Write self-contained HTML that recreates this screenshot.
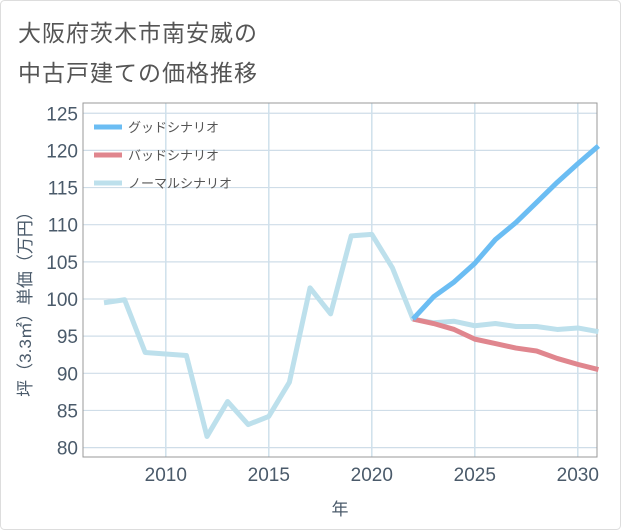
<!DOCTYPE html>
<html><head><meta charset="utf-8"><style>
body{margin:0;background:#fff;font-family:"Liberation Sans","Noto Sans CJK JP",sans-serif;}
#wrap{position:relative;width:621px;height:530px;}
.title{position:absolute;left:18px;font-size:23px;color:#555;letter-spacing:1px}
</style></head><body>
<div id="wrap">
<div class="title" style="top:14px">大阪府茨木市南安威の</div>
<div class="title" style="top:54px">中古戸建ての価格推移</div>
<svg id="chart" width="621" height="530" style="position:absolute;left:0;top:0"></svg>
</div>
<script>
const years=[2007,2008,2009,2010,2011,2012,2013,2014,2015,2016,2017,2018,2019,2020,2021,2022,2023,2024,2025,2026,2027,2028,2029,2030,2031];
const normalVals=[99.5,99.9,92.8,92.6,92.4,81.5,86.2,83.1,84.2,88.8,101.5,98.0,108.5,108.7,104.2,97.3,96.8,97.0,96.4,96.7,96.3,96.3,95.9,96.1,95.6];
const futureYears=[2022,2023,2024,2025,2026,2027,2028,2029,2030,2031];
const goodVals=[97.3,100.3,102.3,104.8,108.0,110.3,113.0,115.7,118.2,120.6];
const badVals=[97.3,96.7,95.9,94.6,94.0,93.4,93.0,92.0,91.2,90.5];
const xTicks=[2010,2015,2020,2025,2030];
const yTicks=[80,85,90,95,100,105,110,115,120,125];
const legendLabels=["グッドシナリオ","バッドシナリオ","ノーマルシナリオ"];
const ns="http://www.w3.org/2000/svg";
const svg=document.getElementById('chart');
const L=83,R=597,T=103,B=457;
const x=v=>104+(v-2007)*20.6;
const y=v=>299-(v-100)*7.43;
function mk(t,a,p){const e=document.createElementNS(ns,t);for(const k in a)e.setAttribute(k,a[k]);(p||svg).appendChild(e);return e;}
let e=mk('rect',{x:0.5,y:0.5,width:620,height:529,rx:4,fill:'none',stroke:'#ddd'});


yTicks.forEach(v=>{
 let g=mk('line',{x1:L,x2:R,y1:y(v),y2:y(v),stroke:'#cfdde8','stroke-width':1.2});
 
 
 let t=mk('text',{x:L-5,y:y(v)+7,'text-anchor':'end','font-size':19,fill:'#4a5a6a'});
 t.textContent=v;
 
 
});
xTicks.forEach(v=>{
 let g=mk('line',{x1:x(v),x2:x(v),y1:T,y2:B,stroke:'#cfe0ec','stroke-width':1.5});
 
 
 let t=mk('text',{x:x(v),y:B+24,'text-anchor':'middle','font-size':19,fill:'#4a5a6a'});
 t.textContent=v;
 
 
});
e=mk('rect',{x:L,y:T,width:R-L,height:B-T,fill:'none',stroke:'#999','stroke-width':1});


function line(xs,vs,c,n){
 const p=mk('polyline',{points:xs.map((v,i)=>x(v)+','+y(vs[i])).join(' '),fill:'none',stroke:c,'stroke-width':5,'stroke-linejoin':'round'});
 
 
}
line(years,normalVals,'#bde0ec','normal-scenario-line');
line(futureYears,badVals,'#e0868e','bad-scenario-line');
line(futureYears,goodVals,'#6bbdf3','good-scenario-line');
const lc=['#6bbdf3','#e0868e','#bde0ec'];
legendLabels.forEach((s,i)=>{
 const yy=127+i*28;
 let r=mk('line',{x1:94,x2:122,y1:yy,y2:yy,stroke:lc[i],'stroke-width':5});
 
 
 let t=mk('text',{x:128,y:yy+5,'font-size':13,fill:'#555'});
 t.textContent=s;
 
 
});
let ya=mk('text',{transform:'translate(31,300) rotate(-90)','text-anchor':'middle','font-size':17,fill:'#4a5a6a'});
ya.textContent='坪（3.3㎡）単価（万円）';


let xa=mk('text',{x:340,y:515,'text-anchor':'middle','font-size':17,fill:'#4a5a6a'});
xa.textContent='年';


</script>
</body></html>
